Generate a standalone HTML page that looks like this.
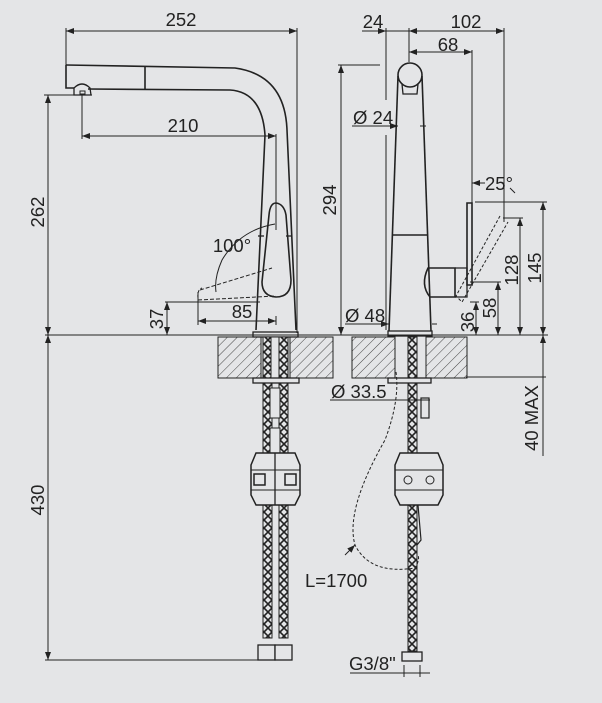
<!DOCTYPE html>
<html><head><meta charset="utf-8"><style>
html,body{margin:0;padding:0;background:#e4e5e7;}
svg{display:block;}
text{font-family:"Liberation Sans",sans-serif;fill:#222;font-size:18.5px;}
</style></head><body>
<svg width="602" height="703" viewBox="0 0 602 703" xmlns="http://www.w3.org/2000/svg">
<defs>
<pattern id="hatch" width="7" height="7" patternUnits="userSpaceOnUse" patternTransform="rotate(45)">
<line x1="0" y1="0" x2="0" y2="7" stroke="#333" stroke-width="0.9"/>
</pattern>
<pattern id="braid" width="8" height="8" patternUnits="userSpaceOnUse">
<rect width="8" height="8" fill="#e4e5e7"/>
<path d="M0 0L8 8M8 0L0 8" stroke="#222" stroke-width="1.6"/>
</pattern>
<marker id="a" markerWidth="8" markerHeight="6" refX="8" refY="3" orient="auto-start-reverse" markerUnits="userSpaceOnUse"><path d="M0 0L8 3L0 6z" fill="#222"/></marker>
</defs>
<g stroke="#222" stroke-width="1" fill="none">
<!-- counter line -->
<line x1="45" y1="335" x2="548" y2="335"/>
<!-- hatched blocks with pipe gaps -->
<rect x="218" y="337" width="43" height="41" fill="url(#hatch)"/>
<rect x="290" y="337" width="43" height="41" fill="url(#hatch)"/>
<rect x="352" y="337" width="43" height="41" fill="url(#hatch)"/>
<rect x="426" y="337" width="41" height="41" fill="url(#hatch)"/>
<line x1="466" y1="377" x2="546" y2="377"/>
<!-- LEFT VIEW dims -->
<line x1="66" y1="28" x2="66" y2="88"/>
<line x1="297" y1="28" x2="297" y2="333"/>
<line x1="66" y1="31" x2="297" y2="31" marker-start="url(#a)" marker-end="url(#a)"/>
<line x1="82" y1="95" x2="82" y2="139"/>
<line x1="82" y1="136" x2="276" y2="136" marker-start="url(#a)" marker-end="url(#a)"/>
<line x1="276" y1="134" x2="276" y2="230"/>
<line x1="44" y1="95" x2="92" y2="95"/>
<line x1="48" y1="95" x2="48" y2="335" marker-start="url(#a)" marker-end="url(#a)"/>
<line x1="48" y1="335" x2="48" y2="660" marker-start="url(#a)" marker-end="url(#a)"/>
<line x1="45" y1="660" x2="258" y2="660"/>
<line x1="165" y1="302" x2="260" y2="302"/>
<line x1="167" y1="302" x2="167" y2="335" marker-start="url(#a)" marker-end="url(#a)"/>
<line x1="198" y1="292" x2="198" y2="325"/>
<line x1="198" y1="321" x2="276" y2="321" marker-start="url(#a)" marker-end="url(#a)"/>
<line x1="276" y1="316" x2="276" y2="325"/>
<!-- spout -->
<path d="M66 65 L235 68 Q285 75 287 130 L296 330" stroke-width="1.6"/>
<path d="M88 89 L230 90 Q262 92 265 135 L256 330" stroke-width="1.6"/>
<path d="M66 65 L66 88 L74 88" stroke-width="1.6"/>
<line x1="145" y1="67" x2="145" y2="89" stroke-width="1.6"/>
<path d="M74 95 L74 88 Q82 80 90 88 L91 95 Z" stroke-width="1.3"/>
<rect x="80" y="91" width="5" height="3"/>
<rect x="253" y="332" width="45" height="5" stroke-width="1.3"/>
<!-- lever -->
<path d="M276 203 Q284 204 286 215 L291 280 Q291 297 276 297 Q262 296 262 282 L269 215 Q270 203 276 203 Z" stroke-width="1.6"/>
<line x1="258" y1="236" x2="264" y2="236" stroke-width="1.3"/>
<line x1="286" y1="236" x2="292" y2="236" stroke-width="1.3"/>
<path d="M200 290 L272 268" stroke-dasharray="4 2"/>
<path d="M198 298 Q197 290 202 288" stroke-dasharray="3 2"/>
<path d="M198 300 L276 296" stroke-dasharray="4 2"/>
<path d="M275 224 Q240 230 222 260 Q214 278 216 292"/>
<line x1="276" y1="219" x2="276" y2="226"/>
<!-- left hoses -->
<rect x="263" y="337" width="9" height="301" fill="url(#braid)"/>
<rect x="279" y="337" width="9" height="301" fill="url(#braid)"/>
<rect x="271" y="337" width="8" height="41" fill="#e4e5e7"/>
<rect x="270" y="388" width="10" height="30" fill="#e4e5e7"/>
<rect x="270" y="428" width="10" height="25" fill="#e4e5e7"/>
<rect x="253" y="378" width="46" height="5" fill="#e4e5e7" stroke-width="1.3"/>
<path d="M256 453 L295 453 L300 465 L300 495 L295 505 L256 505 L251 495 L251 465 Z" fill="#e4e5e7" stroke-width="1.5"/>
<line x1="275" y1="453" x2="275" y2="505" stroke-width="1.3"/>
<line x1="251" y1="470" x2="300" y2="470"/><line x1="251" y1="490" x2="300" y2="490"/>
<rect x="254" y="474" width="11" height="11" fill="#e4e5e7" stroke-width="1.5"/>
<rect x="285" y="474" width="11" height="11" fill="#e4e5e7" stroke-width="1.5"/>
<rect x="258" y="645" width="17" height="15" fill="#e4e5e7" stroke-width="1.3"/>
<rect x="275" y="645" width="17" height="15" fill="#e4e5e7" stroke-width="1.3"/>
<!-- RIGHT VIEW dims -->
<line x1="386" y1="28" x2="386" y2="100"/>
<line x1="386" y1="135" x2="386" y2="330"/>
<line x1="409" y1="28" x2="409" y2="62"/>
<line x1="504" y1="28" x2="504" y2="222"/>
<line x1="472" y1="50" x2="472" y2="285"/>
<line x1="362" y1="31" x2="504" y2="31" marker-end="url(#a)"/>
<line x1="376" y1="31" x2="386" y2="31" marker-end="url(#a)"/>
<line x1="420" y1="31" x2="409" y2="31" marker-end="url(#a)"/>
<line x1="409" y1="52" x2="472" y2="52" marker-start="url(#a)" marker-end="url(#a)"/>
<line x1="338" y1="65" x2="380" y2="65"/>
<line x1="341" y1="65" x2="341" y2="335" marker-start="url(#a)" marker-end="url(#a)"/>
<line x1="352" y1="126" x2="398" y2="126" marker-end="url(#a)"/>
<line x1="426" y1="126" x2="420" y2="126"/>
<line x1="345" y1="324" x2="389" y2="324" marker-end="url(#a)"/>
<line x1="437" y1="324" x2="432" y2="324"/>
<line x1="475" y1="202" x2="547" y2="202"/>
<line x1="543" y1="202" x2="543" y2="335" marker-start="url(#a)" marker-end="url(#a)"/>
<line x1="503" y1="218" x2="523" y2="218"/>
<line x1="520" y1="218" x2="520" y2="335" marker-start="url(#a)" marker-end="url(#a)"/>
<line x1="470" y1="282" x2="501" y2="282"/>
<line x1="498" y1="282" x2="498" y2="335" marker-start="url(#a)" marker-end="url(#a)"/>
<line x1="470" y1="302" x2="479" y2="302"/>
<line x1="476" y1="302" x2="476" y2="335" marker-start="url(#a)" marker-end="url(#a)"/>
<line x1="543" y1="335" x2="543" y2="456" marker-start="url(#a)"/>
<line x1="472" y1="183" x2="485" y2="183" marker-start="url(#a)"/>
<path d="M510 188 Q512 190 515 193"/>
<!-- right body -->
<circle cx="410" cy="75" r="12" stroke-width="1.6"/>
<path d="M402 84 L403 94 L417 94 L418 84" stroke-width="1.3"/>
<path d="M398 76 L389 331" stroke-width="1.6"/>
<path d="M422 76 L431 331" stroke-width="1.6"/>
<line x1="393" y1="235" x2="427" y2="235" stroke-width="1.6"/>
<rect x="388" y="331" width="44" height="5" stroke-width="1.3"/>
<path d="M428 268 L455 268 L455 297 L430 297 Q420 285 428 268 Z" stroke-width="1.6"/>
<path d="M455 268 L467 268 L467 297 L455 297" stroke-width="1.3"/>
<path d="M467 203 L472 203 L472 285 L467 285 Z" stroke-width="1.6"/>
<path d="M500 216 L456 296 L462 302 L508 222" stroke-dasharray="3 2"/>
<!-- right hose -->
<rect x="408" y="337" width="9" height="314" fill="url(#braid)"/>
<rect x="421" y="398" width="8" height="20" fill="#e4e5e7" stroke-width="1.2"/>
<rect x="388" y="378" width="43" height="5" fill="#e4e5e7" stroke-width="1.3"/>
<path d="M400 453 L438 453 L443 465 L443 495 L438 505 L400 505 L395 495 L395 465 Z" fill="#e4e5e7" stroke-width="1.5"/>
<line x1="395" y1="470" x2="443" y2="470"/><line x1="395" y1="490" x2="443" y2="490"/>
<circle cx="408" cy="480" r="4"/><circle cx="430" cy="480" r="4"/>
<path d="M418 505 L421 540 L417 545" stroke-width="1.2"/>
<path d="M396 372 Q400 400 385 440 Q345 510 355 545 Q370 575 415 568 Q420 560 418 555" stroke-dasharray="3 2"/>
<line x1="345" y1="555" x2="355" y2="545" marker-end="url(#a)"/>
<rect x="402" y="652" width="20" height="9" fill="#e4e5e7" stroke-width="1.3"/>
<line x1="350" y1="673" x2="430" y2="673"/>
<line x1="404" y1="665" x2="404" y2="677"/><line x1="420" y1="665" x2="420" y2="677"/>
<line x1="330" y1="400" x2="430" y2="400"/>
</g>
<text x="181" y="26" text-anchor="middle">252</text>
<text x="183" y="132" text-anchor="middle">210</text>
<text x="232" y="252" text-anchor="middle">100°</text>
<text x="242" y="318" text-anchor="middle">85</text>
<text transform="translate(44 212) rotate(-90)" text-anchor="middle">262</text>
<text transform="translate(44 500) rotate(-90)" text-anchor="middle">430</text>
<text transform="translate(163 319) rotate(-90)" text-anchor="middle">37</text>
<text x="373" y="28" text-anchor="middle">24</text>
<text x="466" y="28" text-anchor="middle">102</text>
<text x="448" y="51" text-anchor="middle">68</text>
<text x="353" y="124">Ø 24</text>
<text transform="translate(336 200) rotate(-90)" text-anchor="middle">294</text>
<text x="485" y="190">25°</text>
<text transform="translate(541 268) rotate(-90)" text-anchor="middle">145</text>
<text transform="translate(518 270) rotate(-90)" text-anchor="middle">128</text>
<text transform="translate(496 308) rotate(-90)" text-anchor="middle">58</text>
<text transform="translate(474 322) rotate(-90)" text-anchor="middle">36</text>
<text x="345" y="322">Ø 48</text>
<text x="331" y="398">Ø 33.5</text>
<text transform="translate(538 418) rotate(-90)" text-anchor="middle">40 MAX</text>
<text x="305" y="587">L=1700</text>
<text x="349" y="670">G3/8"</text>
</svg>
</body></html>
